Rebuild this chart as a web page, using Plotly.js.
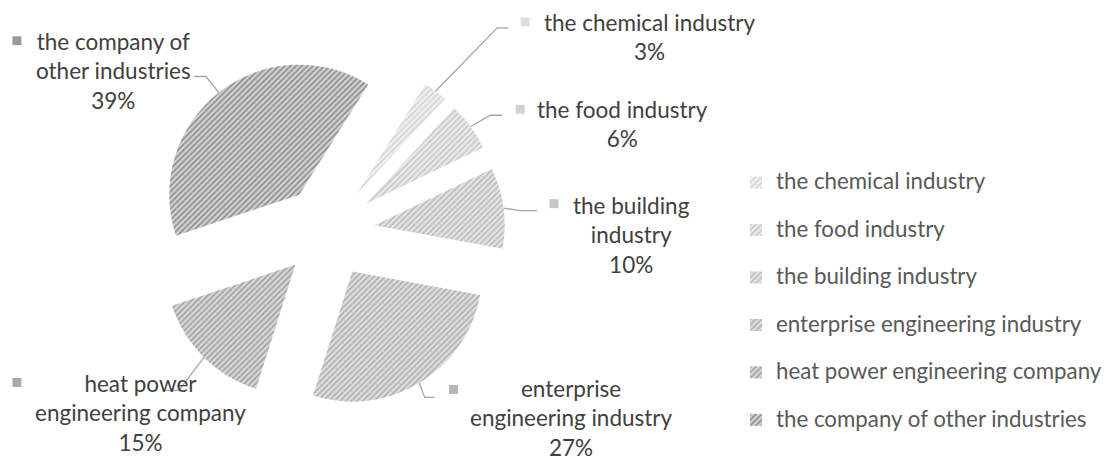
<!DOCTYPE html>
<html>
<head>
<meta charset="utf-8">
<script src="https://cdn.plot.ly/plotly-3.0.1.min.js"></script>
<style>
  html, body { margin: 0; padding: 0; background: #fff; }
  #chart { width: 1107px; height: 460px; }
</style>
</head>
<body>
<div id="chart"></div>
<script>
// ---- data ----
const categories = [
  'the chemical industry',
  'the food industry',
  'the building industry',
  'enterprise engineering industry',
  'heat power engineering company',
  'the company of other industries'
];
const shares = [3, 6, 10, 27, 15, 39];
const labelLines = [
  'the chemical industry',
  'the food industry',
  'the building<br>industry',
  'enterprise<br>engineering industry',
  'heat power<br>engineering company',
  'the company of<br>other industries'
];

// ---- styling / layout ----
const W = 1107, H = 460;
const sliceBg = ['#f1f1f1', '#ebebeb', '#e5e5e5', '#dfdfdf', '#d9d9d9', '#d4d4d4'];
const sliceFg = ['#d6d6d6', '#c8c8c8', '#bcbcbc', '#b0b0b0', '#a2a2a2', '#8e8e8e'];
const keyColors = ['#dedede', '#d2d2d2', '#c6c6c6', '#b6b6b6', '#a9a9a9', '#9b9b9b'];

const domX = [(330 - 178) / W, (330 + 178) / W];
const domY = [(460 - 411) / H, (460 - 55) / H];
const rotation = 32;
const pull = 0.36;

// label placement (pixels): block centre, key square, leader elbow and end
const labelPos = [
  {cx: 653, cy: 37,  kx: 528, ky: 22,  ex: 500, ey: 28,  tx: 511, ty: 28},
  {cx: 626, cy: 125, kx: 523, ky: 110, ex: 493, ey: 116, tx: 505, ty: 116},
  {cx: 635, cy: 237, kx: 557, ky: 205, ex: 523, ey: 212, tx: 540, ty: 212},
  {cx: 575, cy: 421, kx: 456, ky: 392, ex: 427, ey: 400, tx: 437, ty: 400},
  {cx: 141, cy: 416, kx: 17,  ky: 385, ex: 180, ey: 393, tx: 167, ty: 393},
  {cx: 114, cy: 71,  kx: 17,  ky: 41,  ex: 207, ey: 77,  tx: 195, ty: 77}
];

const total = shares.reduce((a, b) => a + b, 0);
const pct = shares.map(v => Math.round(v / total * 100) + '%');

const px = x => x / W;
const py = y => 1 - y / H;

// pie geometry (as plotly computes it with zero margins)
const pcx = W * (domX[0] + domX[1]) / 2;
const pcy = H * (1 - (domY[0] + domY[1]) / 2);
const half = Math.min(W * (domX[1] - domX[0]), H * (domY[1] - domY[0])) / 2;

const annotations = [];
const shapes = [];
let cum = 0;
shares.forEach((v, i) => {
  const a = (rotation + 360 * (cum + v / 2) / total) * Math.PI / 180;
  cum += v;
  const sx = pcx + half * Math.sin(a);
  const sy = pcy - half * Math.cos(a);
  const p = labelPos[i];
  annotations.push({
    xref: 'paper', yref: 'paper', x: px(p.cx), y: py(p.cy),
    xanchor: 'center', yanchor: 'middle', align: 'center', showarrow: false,
    text: labelLines[i] + '<br>' + pct[i],
    font: {family: 'Lato', size: 22.5, color: '#404040'}
  });
  shapes.push({
    type: 'rect', xref: 'paper', yref: 'paper',
    x0: px(p.kx - 4.5), x1: px(p.kx + 4.5), y0: py(p.ky + 4.5), y1: py(p.ky - 4.5),
    fillcolor: keyColors[i], line: {width: 0}
  });
  shapes.push({
    type: 'path', xref: 'paper', yref: 'paper',
    path: `M ${px(sx)} ${py(sy)} L ${px(p.ex)} ${py(p.ey)} L ${px(p.tx)} ${py(p.ty)}`,
    line: {color: '#a6a6a6', width: 1.3}
  });
});

const legendLabels = categories.map(c => '<span style="font-size:22.3px">' + c + '</span><br> ');

const trace = {
  type: 'pie',
  labels: legendLabels,
  values: shares,
  sort: false,
  direction: 'clockwise',
  rotation: rotation,
  pull: pull,
  textinfo: 'none',
  hoverinfo: 'percent',
  domain: {x: domX, y: domY},
  marker: {
    colors: sliceBg,
    line: {width: 0},
    pattern: {shape: '/', bgcolor: sliceBg, fgcolor: sliceFg, size: 4, solidity: 0.45}
  }
};

const layout = {
  width: W, height: H,
  margin: {l: 0, r: 0, t: 0, b: 0},
  paper_bgcolor: '#ffffff',
  showlegend: true,
  legend: {
    x: px(740), xanchor: 'left', y: py(166), yanchor: 'top',
    font: {family: 'Lato', size: 17.1, color: '#595959'},
    valign: 'top', bgcolor: 'rgba(0,0,0,0)'
  },
  annotations: annotations,
  shapes: shapes
};

Plotly.newPlot('chart', [trace], layout, {displayModeBar: false, staticPlot: true});
</script>
</body>
</html>
